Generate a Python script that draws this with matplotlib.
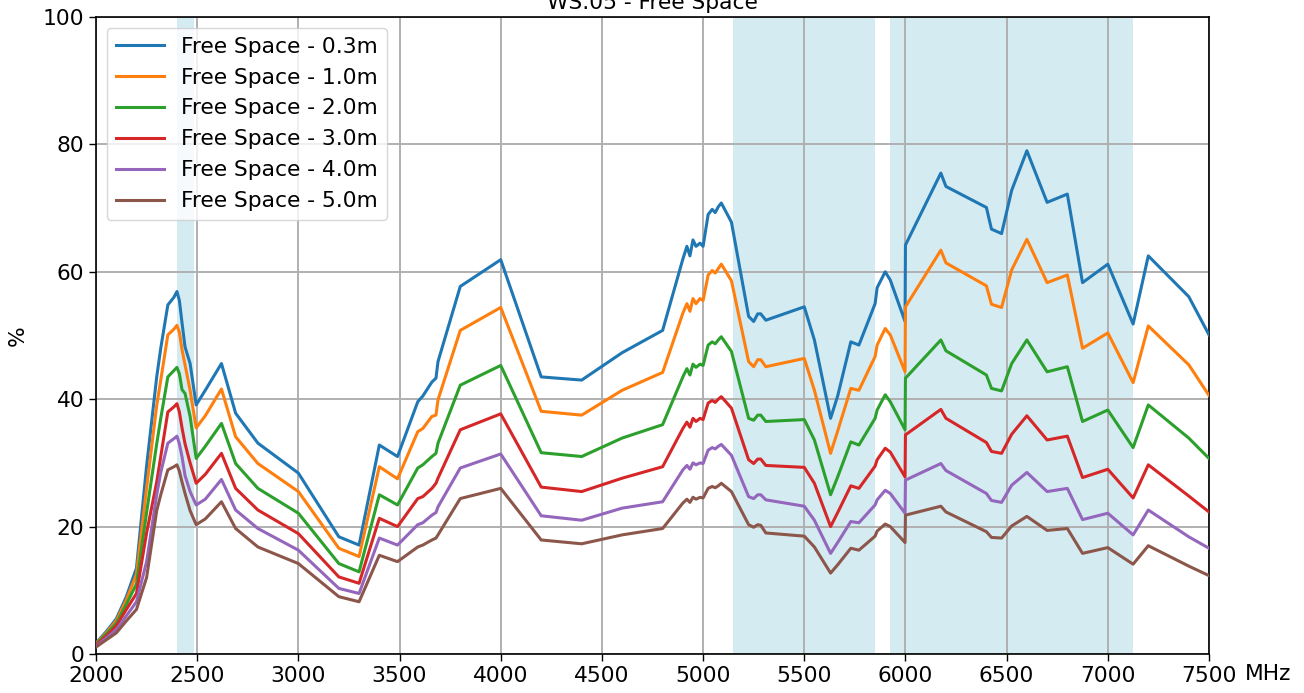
import matplotlib
matplotlib.use("Agg")
import matplotlib.pyplot as plt

freq = [2000, 2050, 2100, 2150, 2200, 2250, 2300, 2320, 2355, 2385, 2400, 2412, 2425, 2440, 2465, 2495,
        2540, 2620, 2690, 2800, 3000, 3200, 3300, 3400, 3490, 3590, 3615, 3660, 3680, 3690, 3800, 4000,
        4200, 4400, 4600, 4800, 4900, 4920, 4935, 4950, 4965, 4985, 5000, 5025, 5045, 5060, 5075, 5090,
        5140, 5225, 5250, 5270, 5285, 5310, 5500, 5550, 5630, 5665, 5730, 5770, 5850, 5860, 5900, 5925,
        5998, 6000, 6175, 6200, 6400, 6425, 6475, 6525, 6600, 6700, 6800, 6875, 7000, 7125, 7200, 7400, 7500]

fs_03 = [1.7, 3.5, 5.5, 9.0, 13.5, 29.5, 43.5, 48.0, 54.8, 56.0, 56.9, 55.5, 52.0, 48.2, 45.6, 39.1,
         41.4, 45.6, 37.8, 33.1, 28.4, 18.4, 17.1, 32.8, 31.0, 39.6, 40.5, 42.7, 43.3, 45.9, 57.7, 61.9,
         43.5, 43.0, 47.3, 50.8, 62.0, 64.0, 62.5, 65.0, 64.0, 64.5, 64.0, 69.0, 69.8, 69.3, 70.2, 70.8,
         67.8, 53.0, 52.2, 53.4, 53.4, 52.4, 54.5, 49.3, 37.0, 40.5, 49.0, 48.5, 55.0, 57.5, 60.0, 58.7,
         52.2, 64.2, 75.5, 73.4, 70.1, 66.7, 66.0, 72.8, 79.0, 70.9, 72.2, 58.3, 61.2, 51.8, 62.5, 56.1, 50.1]

fs_10 = [1.6, 3.3, 5.2, 8.5, 12.5, 26.0, 39.0, 43.0, 50.1, 51.0, 51.6, 50.5, 47.8, 45.4, 41.4, 35.5,
         37.4, 41.6, 34.1, 29.9, 25.5, 16.6, 15.3, 29.4, 27.5, 34.9, 35.4, 37.3, 37.5, 39.9, 50.8, 54.4,
         38.1, 37.5, 41.4, 44.2, 53.5, 55.0, 53.8, 55.8, 55.0, 55.8, 55.5, 59.5, 60.2, 59.8, 60.5, 61.2,
         58.6, 45.9, 45.1, 46.2, 46.2, 45.1, 46.4, 41.4, 31.5, 35.0, 41.7, 41.4, 46.7, 48.5, 51.1, 50.1,
         44.3, 54.5, 63.4, 61.4, 57.8, 54.9, 54.4, 60.3, 65.1, 58.3, 59.5, 48.0, 50.4, 42.6, 51.5, 45.4, 40.6]

fs_20 = [1.5, 3.1, 4.8, 7.8, 11.0, 22.2, 33.0, 37.0, 43.5, 44.5, 45.0, 44.0, 41.5, 40.9, 37.3, 30.7,
         32.6, 36.2, 29.9, 26.0, 22.1, 14.2, 12.9, 25.0, 23.4, 29.2, 29.7, 31.0, 31.5, 33.1, 42.2, 45.3,
         31.6, 31.0, 33.9, 36.0, 43.5, 44.8, 43.8, 45.5, 45.0, 45.5, 45.3, 48.5, 49.0, 48.7, 49.3, 49.8,
         47.5, 37.0, 36.7, 37.5, 37.5, 36.5, 36.8, 33.6, 25.0, 27.8, 33.3, 32.8, 37.0, 38.3, 40.7, 39.6,
         35.2, 43.3, 49.3, 47.6, 43.8, 41.7, 41.3, 45.6, 49.3, 44.3, 45.1, 36.5, 38.3, 32.4, 39.1, 33.9, 30.7]

fs_30 = [1.4, 2.8, 4.4, 7.0, 9.5, 19.0, 27.0, 31.0, 38.0, 38.8, 39.3, 38.0, 35.5, 33.0, 30.0, 26.8,
         28.2, 31.5, 26.0, 22.6, 18.9, 12.1, 11.1, 21.3, 20.0, 24.4, 24.7, 26.0, 26.8, 27.6, 35.2, 37.7,
         26.2, 25.5, 27.6, 29.4, 35.4, 36.4, 35.6, 37.0, 36.5, 37.0, 36.8, 39.4, 39.8, 39.5, 40.0, 40.4,
         38.6, 30.5, 29.9, 30.6, 30.6, 29.6, 29.3, 26.8, 20.0, 22.2, 26.4, 26.0, 29.5, 30.5, 32.3, 31.7,
         27.8, 34.4, 38.4, 37.0, 33.2, 31.8, 31.5, 34.5, 37.4, 33.6, 34.2, 27.7, 29.0, 24.5, 29.7, 24.8, 22.3]

fs_40 = [1.2, 2.5, 3.8, 6.0, 8.2, 14.5, 25.0, 28.5, 33.1, 33.8, 34.2, 33.0, 31.0, 28.0, 25.5, 23.4,
         24.3, 27.4, 22.6, 19.7, 16.3, 10.3, 9.5, 18.2, 17.1, 20.3, 20.6, 21.8, 22.2, 23.1, 29.2, 31.4,
         21.7, 21.0, 22.9, 23.9, 28.9, 29.6, 29.0, 30.0, 29.7, 30.0, 29.9, 32.0, 32.4, 32.2, 32.6, 32.9,
         31.2, 24.7, 24.4, 25.0, 25.0, 24.2, 23.2, 21.0, 15.8, 17.5, 20.8, 20.6, 23.4, 24.2, 25.7, 25.2,
         22.1, 27.3, 29.9, 28.8, 25.2, 24.1, 23.8, 26.5, 28.5, 25.5, 26.0, 21.1, 22.1, 18.7, 22.6, 18.4, 16.6]

fs_50 = [1.1, 2.2, 3.3, 5.2, 7.0, 12.0, 22.5, 25.0, 28.9, 29.4, 29.7, 28.7, 27.0, 25.2, 22.5, 20.3,
         21.2, 23.9, 19.7, 16.8, 14.2, 9.0, 8.2, 15.5, 14.5, 16.8, 17.1, 17.9, 18.2, 18.7, 24.4, 26.0,
         17.9, 17.3, 18.7, 19.7, 23.7, 24.3, 23.8, 24.6, 24.3, 24.6, 24.5, 26.0, 26.3, 26.1, 26.4, 26.8,
         25.5, 20.3, 19.9, 20.3, 20.2, 19.0, 18.5, 16.8, 12.7, 14.0, 16.6, 16.3, 18.5, 19.3, 20.4, 20.0,
         17.5, 21.8, 23.2, 22.3, 19.2, 18.3, 18.2, 20.1, 21.6, 19.4, 19.7, 15.8, 16.7, 14.1, 17.0, 13.8, 12.3]

labels = ["Free Space - 0.3m", "Free Space - 1.0m", "Free Space - 2.0m",
          "Free Space - 3.0m", "Free Space - 4.0m", "Free Space - 5.0m"]
bands = [(2400, 2483.5), (5150, 5850), (5925, 7125)]
xticks = [2000, 2500, 3000, 3500, 4000, 4500, 5000, 5500, 6000, 6500, 7000, 7500]
yticks = [0, 20, 40, 60, 80, 100]

FS = 15.7
fig = plt.figure(figsize=(13.04, 6.93), dpi=100)
ax = fig.add_axes([96 / 1304, 1 - 654 / 693, (1209 - 96) / 1304, (654 - 17) / 693])

for lo, hi in bands:
    ax.axvspan(lo, hi, color="lightblue", alpha=0.5, lw=0, zorder=0)

series = [fs_03, fs_10, fs_20, fs_30, fs_40, fs_50]
for vals, lab in zip(series, labels):
    ax.plot(freq, vals, lw=2.2, label=lab, zorder=3)

ax.set_xlim(2000, 7500)
ax.set_ylim(0, 100)
ax.set_xticks(xticks)
ax.set_yticks(yticks)
ax.tick_params(labelsize=FS, length=5, width=1)
ax.set_axisbelow(True)
ax.grid(True, color="#b0b0b0", lw=1.4)
for s in ax.spines.values():
    s.set_linewidth(1.2)
ax.set_ylabel("%", fontsize=FS)
ax.yaxis.set_label_coords(-68 / 1113, 0.5)
ax.set_title("WS.05 - Free Space", fontsize=FS)
ax.annotate("MHz", xy=(1, 0), xycoords="axes fraction", xytext=(26, -7.5),
            textcoords="offset points", ha="left", va="top", fontsize=FS)
ax.legend(loc="upper left", fontsize=FS, framealpha=0.8, handlelength=2.2,
          borderaxespad=0.5)

fig.savefig("out.png", dpi=100)
